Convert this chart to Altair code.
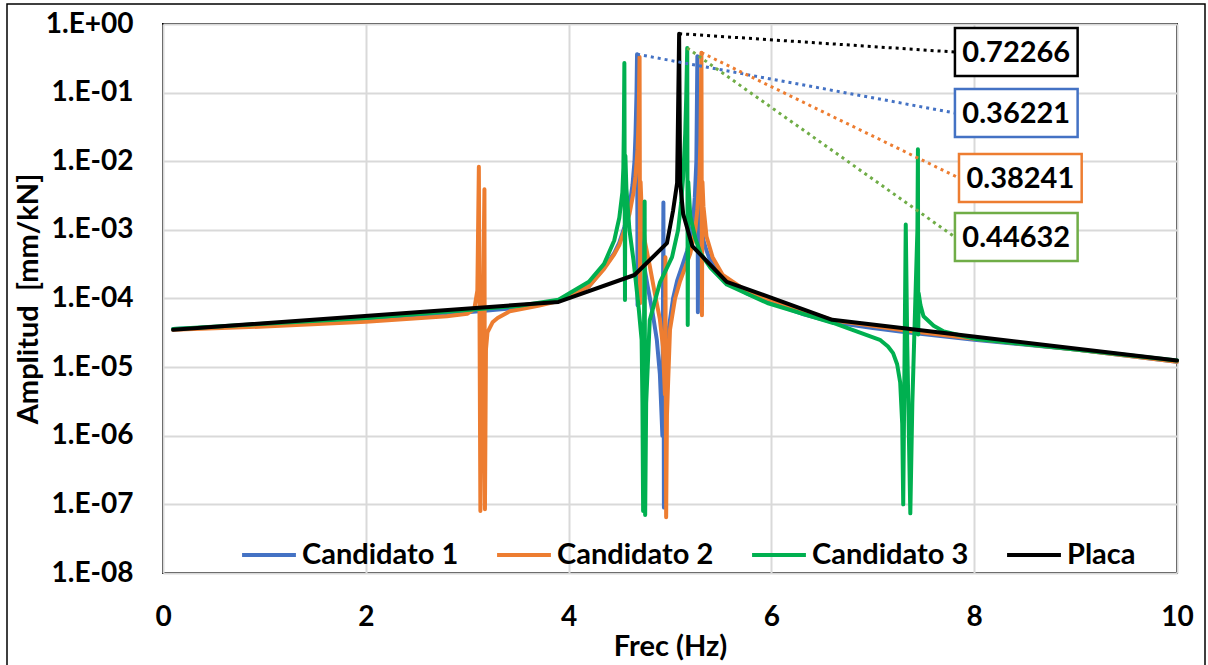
import altair as alt
import pandas as pd

# ---------------- data ----------------
series_names = ["Candidato 1", "Candidato 2", "Candidato 3", "Placa"]
series_colors = ["#4472C4", "#ED7D31", "#00B050", "#000000"]

c1_freq = [0.1, 1.0, 2.0, 3.0, 3.5, 3.9, 4.2, 4.35, 4.45, 4.5, 4.55, 4.58, 4.61, 4.63, 4.65,
           4.66, 4.67, 4.675, 4.68, 4.69, 4.70, 4.73, 4.78, 4.83, 4.87, 4.90, 4.925, 4.935,
           4.94, 4.95, 4.98, 5.03, 5.07, 5.12, 5.17, 5.21, 5.23, 5.245, 5.26, 5.27, 5.275,
           5.28, 5.29, 5.31, 5.33, 5.36, 5.39, 5.47, 5.56, 5.75, 5.96, 6.3, 6.61, 7.0, 7.27,
           8.0, 9.0, 10.0]
c1_amp = [3.6e-5, 4.1e-5, 4.9e-5, 6.3e-5, 7.3e-5, 9.3e-5, 1.5e-4, 2.8e-4, 4.6e-4, 6.5e-4,
          1.1e-3, 1.6e-3, 2.8e-3, 4.5e-3, 1e-2, 2.5e-2, 0.1, 0.36221, 8e-5, 3e-3, 1.2e-3,
          4e-4, 1.5e-4, 6e-5, 2.5e-5, 8e-6, 1e-6, 2.5e-3, 9e-8, 2e-6, 3e-5, 1e-4, 1.8e-4,
          3e-4, 5e-4, 9e-4, 1.5e-3, 3e-3, 1e-2, 0.34, 6.3e-5, 5e-3, 2e-3, 1.1e-3, 7e-4,
          5e-4, 3.8e-4, 2.5e-4, 1.75e-4, 1.2e-4, 9e-5, 6e-5, 4.5e-5, 3.7e-5, 3.3e-5, 2.5e-5,
          1.8e-5, 1.2e-5]

c2_freq = [0.1, 1.0, 2.0, 2.8, 3.0, 3.07, 3.1, 3.115, 3.13, 3.17, 3.175, 3.185, 3.2, 3.25,
           3.3, 3.42, 3.7, 3.9, 4.2, 4.35, 4.45, 4.5, 4.56, 4.6, 4.64, 4.66, 4.68, 4.69,
           4.70, 4.705, 4.71, 4.72, 4.75, 4.80, 4.85, 4.9, 4.93, 4.95, 4.955, 4.962, 4.97,
           5.0, 5.05, 5.1, 5.2, 5.25, 5.27, 5.29, 5.30, 5.31, 5.315, 5.32, 5.33, 5.36, 5.42,
           5.52, 5.75, 6.0, 6.61, 7.27, 8.0, 9.0, 10.0]
c2_amp = [3.5e-5, 3.9e-5, 4.6e-5, 5.5e-5, 6e-5, 7e-5, 1.3e-4, 8.3e-3, 8e-8, 3.9e-3, 8.5e-8,
          1.8e-5, 3.2e-5, 4.5e-5, 5.2e-5, 6.5e-5, 7.8e-5, 9.2e-5, 1.5e-4, 2.7e-4, 4.4e-4,
          6e-4, 1.1e-3, 1.7e-3, 3.5e-3, 6e-3, 1.5e-2, 4e-2, 0.33, 8.5e-5, 5e-3, 2e-3, 7e-4,
          3e-4, 1.2e-4, 5e-5, 2e-5, 4e-6, 4e-4, 6.5e-8, 2e-6, 3.5e-5, 1e-4, 1.8e-4, 4.5e-4,
          1e-3, 2e-3, 6e-3, 2e-2, 0.38241, 5.7e-5, 5e-3, 2.2e-3, 8e-4, 4e-4, 2.2e-4, 1.3e-4,
          9.5e-5, 4.8e-5, 3.5e-5, 2.6e-5, 1.8e-5, 1.2e-5]

c3_freq = [0.1, 1.0, 2.0, 3.0, 3.5, 3.9, 4.2, 4.35, 4.45, 4.5, 4.53, 4.54, 4.545, 4.55,
           4.556, 4.56, 4.57, 4.6, 4.64, 4.69, 4.72, 4.728, 4.735, 4.75, 4.755, 4.765, 4.8,
           4.9, 5.02, 5.08, 5.11, 5.13, 5.15, 5.16, 5.17, 5.175, 5.18, 5.2, 5.25, 5.3, 5.4,
           5.56, 5.96, 6.61, 7.07, 7.15, 7.2, 7.24, 7.27, 7.29, 7.30, 7.325, 7.34, 7.37, 7.39,
           7.42, 7.44, 7.445, 7.448, 7.452, 7.47, 7.5, 7.6, 7.7, 8.0, 9.0, 10.0]
c3_amp = [3.6e-5, 4.3e-5, 5.2e-5, 6.8e-5, 7.8e-5, 9.6e-5, 1.75e-4, 3.2e-4, 7e-4, 1.5e-3,
          3.5e-3, 8e-3, 3e-2, 0.27, 9.5e-5, 1.2e-2, 4e-3, 1e-3, 3.6e-4, 7.5e-5, 2.5e-5,
          3e-6, 8e-8, 2.6e-3, 7e-8, 3e-6, 4.8e-5, 1.7e-4, 4e-4, 1e-3, 2.5e-3, 6e-3, 2.5e-2,
          8.6e-2, 0.44632, 4.1e-5, 5e-3, 1.6e-3, 7.5e-4, 4.6e-4, 2.8e-4, 1.6e-4, 8.6e-5,
          4.4e-5, 2.5e-5, 2e-5, 1.6e-5, 1.1e-5, 6e-6, 1.5e-6, 1e-7, 1.2e-3, 2e-5, 7.4e-8,
          3e-6, 1e-4, 1e-3, 1.5e-2, 3e-5, 1.2e-4, 8e-5, 5.5e-5, 4e-5, 3.3e-5, 2.6e-5, 1.8e-5,
          1.25e-5]

placa_freq = [0.1, 3.9, 4.65, 4.97, 5.03, 5.07, 5.09, 5.10, 5.13, 5.22, 5.56, 6.6, 10.0]
placa_amp = [3.5e-5, 8.9e-5, 2.2e-4, 6.4e-4, 1.9e-3, 4.8e-3, 0.72266, 5e-3, 1.7e-3, 5.8e-4,
             1.75e-4, 4.9e-5, 1.25e-5]

# callouts (peak values)
callout_text = ["0.72266", "0.36221", "0.38241", "0.44632"]
callout_peak_freq = [5.09, 4.675, 5.31, 5.17]
callout_peak_amp = [0.72266, 0.36221, 0.38241, 0.44632]
callout_label_freq = [7.81, 7.81, 7.85, 7.81]
callout_label_amp = [0.39, 0.0505, 0.0057, 7.85e-4]
callout_color = ["#000000", "#4472C4", "#ED7D31", "#70AD47"]

x_ticks = [0, 2, 4, 6, 8, 10]
y_ticks = [1e-8, 1e-7, 1e-6, 1e-5, 1e-4, 1e-3, 1e-2, 1e-1, 1.0]

# ---------------- build tables ----------------
rows = []
for name, fr, am in zip(series_names,
                        [c1_freq, c2_freq, c3_freq, placa_freq],
                        [c1_amp, c2_amp, c3_amp, placa_amp]):
    for i, (f, a) in enumerate(zip(fr, am)):
        rows.append({"serie": name, "frec": f, "amp": a, "orden": i})
df = pd.DataFrame(rows)

callouts = pd.DataFrame({
    "texto": callout_text,
    "f0": callout_peak_freq,
    "a0": callout_peak_amp,
    "f1": callout_label_freq,
    "a1": callout_label_amp,
    "col": callout_color,
})

FONT = "Lato"

xscale = alt.Scale(domain=[0, 10], nice=False)
yscale = alt.Scale(type="log", domain=[1e-8, 1], nice=False)

frame = alt.Chart(pd.DataFrame({"k": [0]})).mark_rect(
    fill="white", fillOpacity=0, stroke="black", strokeWidth=1.5
).encode(
    x=alt.value(-156), x2=alt.value(1042), y=alt.value(-20), y2=alt.value(650)
)

lines = alt.Chart(df).mark_line(strokeWidth=4, strokeJoin="round", strokeCap="round").encode(
    x=alt.X("frec:Q", scale=xscale,
            axis=alt.Axis(values=x_ticks, title="Frec (Hz)", format="d", labelFlush=False,
                          labelPadding=30, titlePadding=1)),
    y=alt.Y("amp:Q", scale=yscale,
            axis=alt.Axis(values=y_ticks, title="Amplitud\u00a0 [mm/kN]",
                          labelExpr="datum.value >= 1 ? '1.E+00' : '1.E-0' + round(-log(datum.value)/LN10)",
                          labelPadding=30, titlePadding=2)),
    color=alt.Color("serie:N", scale=alt.Scale(domain=series_names, range=series_colors),
                    legend=alt.Legend(orient="none", legendX=77, legendY=502,
                                      direction="horizontal", columns=4, title=None,
                                      symbolType="stroke", symbolSize=2900,
                                      symbolStrokeWidth=4, labelFontSize=29,
                                      labelFont=FONT, labelFontWeight="bold",
                                      labelColor="black", columnPadding=30,
                                      labelOffset=4, labelLimit=400)),
    order="orden:Q",
)

leaders = alt.Chart(callouts).mark_rule(strokeWidth=3, strokeDash=[3, 4]).encode(
    x="f0:Q", y="a0:Q", x2="f1:Q", y2="a1:Q",
    color=alt.Color("col:N", scale=None),
)

boxes = alt.Chart(callouts).transform_calculate(
    fx2="datum.f1 + 1.21",
    lo="datum.a1 * pow(10, -0.35)",
    hi="datum.a1 * pow(10, 0.35)",
).mark_rect(fill="white", strokeWidth=2.5).encode(
    x="f1:Q", x2="fx2:Q", y="lo:Q", y2="hi:Q",
    stroke=alt.Color("col:N", scale=None),
)

texts = alt.Chart(callouts).transform_calculate(
    fc="datum.f1 + 0.605"
).mark_text(font=FONT, fontWeight="bold", fontSize=29, color="black",
            align="center", baseline="middle", dy=1).encode(
    x="fc:Q", y="a1:Q", text="texto:N"
)

chart = alt.layer(frame, lines, leaders, boxes, texts).properties(
    width=1014, height=549,
    autosize=alt.AutoSizeParams(type="none"),
    padding={"left": 163, "top": 24, "right": 31, "bottom": 92},
    background="white",
).configure_view(
    stroke="black", strokeWidth=2
).configure_axis(
    grid=True, gridColor="#d9d9d9", gridWidth=2, domain=False, ticks=False,
    labelFont=FONT, labelFontWeight="bold", labelFontSize=28, labelColor="black",
    titleFont=FONT, titleFontWeight="bold", titleFontSize=29, titleColor="black",
)

chart.save("out.html", embed_options={"renderer": "svg", "actions": False})
